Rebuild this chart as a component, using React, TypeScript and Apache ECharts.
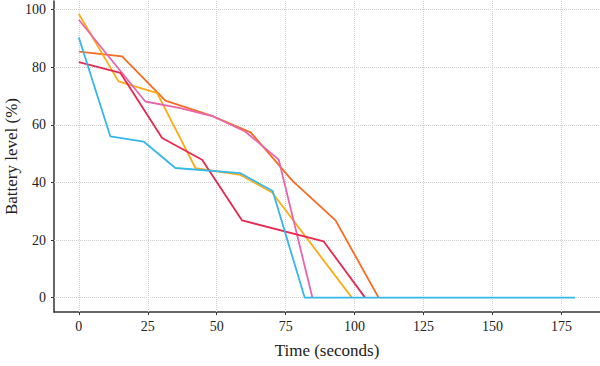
import React, { useEffect, useRef } from "react";
import * as echarts from "echarts";

const xTicks = [0, 25, 50, 75, 100, 125, 150, 175];
const yTicks = [0, 20, 40, 60, 80, 100];

const redOrangeData: [number, number][] = [
  [0, 85.4], [15.7, 83.8], [31.4, 68.4], [48.8, 62.9], [62.3, 57.4], [77.4, 40.6], [93.1, 26.8], [108.7, 0],
];
const orangeData: [number, number][] = [
  [0, 98.5], [14.4, 75.1], [28.4, 71], [42.3, 45], [58.6, 42.6], [70.1, 36.5], [99, 0],
];
const pinkData: [number, number][] = [
  [0, 96.5], [24.1, 68.1], [36.8, 65.8], [48.8, 62.9], [60.3, 57.7], [72.5, 47.9], [84.7, 0],
];
const crimsonData: [number, number][] = [
  [0, 81.8], [15.1, 78], [30.2, 55.4], [44.7, 47.9], [59.2, 26.8], [88.8, 19.5], [103.8, 0],
];
const cyanData: [number, number][] = [
  [0, 90.3], [11.4, 56], [23.5, 54.2], [35, 45], [58.6, 43.2], [70.3, 37], [81.9, 0], [180, 0],
];

const seriesDefs = [
  { name: "A", data: redOrangeData, color: "#F76B22" },
  { name: "B", data: orangeData, color: "#FFAB14" },
  { name: "C", data: pinkData, color: "#E865AC" },
  { name: "D", data: crimsonData, color: "#E8284F" },
  { name: "E", data: cyanData, color: "#35B7EA" },
];

const FONT = "'Liberation Serif', 'Times New Roman', serif";

export default function App() {
  const ref = useRef<HTMLDivElement>(null);
  useEffect(() => {
    if (!ref.current) return;
    const chart = echarts.init(ref.current, undefined, { renderer: "svg" });
    const gridLineStyle = { color: "#cfcfcf", type: "dotted" as const, width: 1 };
    chart.setOption({
      animation: false,
      backgroundColor: "#ffffff",
      grid: { left: 54, top: 1, width: 546, height: 311, containLabel: false, outerBoundsMode: "none" },
      xAxis: {
        type: "value",
        min: -9,
        max: 189,
        name: "Time (seconds)",
        nameLocation: "middle",
        nameGap: 30,
        nameMoveOverlap: false,
        nameTextStyle: { fontFamily: FONT, fontSize: 17, color: "#222" },
        axisLine: { show: true, onZero: false, lineStyle: { color: "#333", width: 1.5 } },
        axisTick: { show: true, customValues: xTicks, length: 3, lineStyle: { color: "#333" } },
        axisLabel: { customValues: xTicks, fontFamily: FONT, fontSize: 14, color: "#222", margin: 7 },
        splitLine: { show: false },
      },
      yAxis: {
        type: "value",
        min: -5,
        max: 103,
        name: "Battery level (%)",
        nameLocation: "middle",
        nameGap: 34,
        nameMoveOverlap: false,
        nameTextStyle: { fontFamily: FONT, fontSize: 17, color: "#222" },
        axisLine: { show: true, onZero: false, lineStyle: { color: "#333", width: 1.5 } },
        axisTick: { show: true, customValues: yTicks, length: 3, lineStyle: { color: "#333" } },
        axisLabel: { customValues: yTicks, fontFamily: FONT, fontSize: 14, color: "#222", margin: 8 },
        splitLine: { show: false },
      },
      series: seriesDefs.map((s, i) => ({
        type: "line",
        name: s.name,
        data: s.data,
        showSymbol: false,
        symbol: "none",
        z: 2 + i,
        lineStyle: { color: s.color, width: 1.8 },
        itemStyle: { color: s.color },
        emphasis: { disabled: true },
        markLine:
          i === 0
            ? {
                silent: true,
                symbol: "none",
                z: 1,
                label: { show: false },
                lineStyle: gridLineStyle,
                emphasis: { disabled: true },
                data: [
                  ...xTicks.map((v) => ({ xAxis: v })),
                  ...yTicks.map((v) => ({ yAxis: v })),
                ],
              }
            : undefined,
      })),
    });
    return () => chart.dispose();
  }, []);
  return <div ref={ref} style={{ width: 600, height: 366, position: "absolute", left: 0, top: 0 }} />;
}
